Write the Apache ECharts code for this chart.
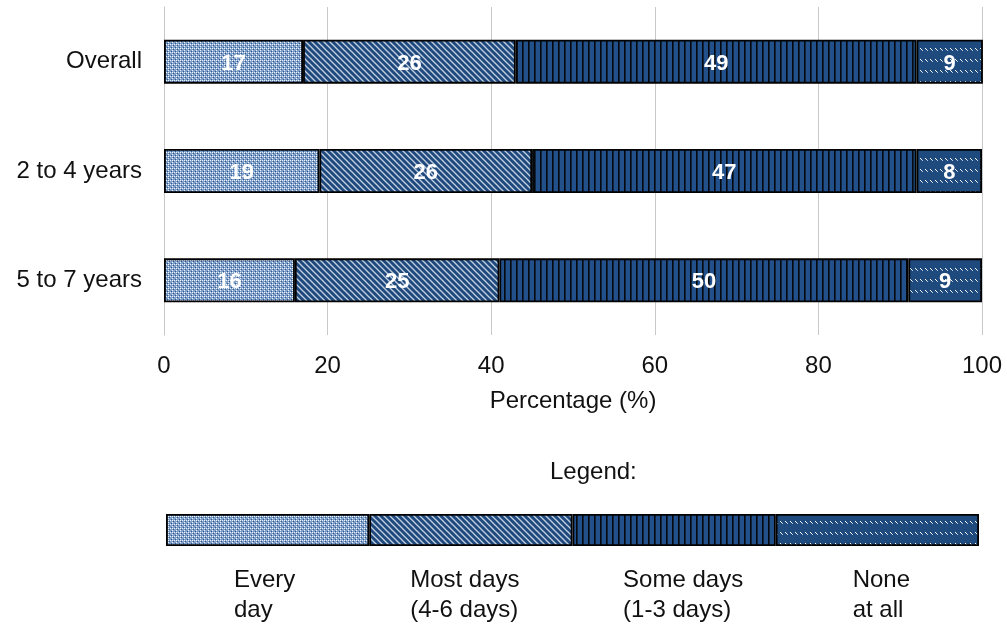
<!DOCTYPE html>
<html>
<head>
<meta charset="utf-8">
<script src="https://cdn.jsdelivr.net/npm/echarts@6/dist/echarts.min.js"></script>
<style>
  html, body { margin: 0; padding: 0; background: #ffffff; }
  #chart { width: 1007px; height: 630px; }
</style>
</head>
<body>
<div id="chart"></div>
<script>
// Age groups and the share (%) in each response band
const categories = ['Overall', '2 to 4 years', '5 to 7 years'];
const everyDay = [17, 19, 16];
const mostDays = [26, 26, 25];
const someDays = [49, 47, 50];
const noneAtAll = [9, 8, 9];

// Key bar: four equal parts, one per response band
const keyNames = ['Every\nday', 'Most days\n(4-6 days)', 'Some days\n(1-3 days)', 'None\nat all'];
const keyShares = [25, 25, 25, 25];

const FONT = '"Liberation Sans", Arial, sans-serif';
const TEXT = '#111111';

// Small repeating tiles used as fill patterns
function tile(w, h, draw) {
  const c = document.createElement('canvas');
  c.width = w; c.height = h;
  const g = c.getContext('2d');
  draw(g, w, h);
  return { image: c, repeat: 'repeat' };
}

const dotted = tile(4, 4, (g) => {
  g.fillStyle = '#7f9ec8'; g.fillRect(0, 0, 4, 4);
  g.fillStyle = '#eef3fa';
  [[0, 0], [2, 0], [0, 2]].forEach(([x, y]) => g.fillRect(x, y, 1, 1));
  g.fillStyle = '#2f5a92';
  [[1, 1], [3, 3]].forEach(([x, y]) => g.fillRect(x, y, 1, 1));
});

const diagonal = tile(6, 6, (g) => {
  g.fillStyle = '#1f497d'; g.fillRect(0, 0, 6, 6);
  g.strokeStyle = '#c2d0e2'; g.lineWidth = 1.3;
  [-6, 0, 6].forEach((k) => {
    g.beginPath(); g.moveTo(-6, -6 + k); g.lineTo(12, 12 + k); g.stroke();
  });
});

const vertical = tile(6, 6, (g) => {
  g.fillStyle = '#21508a'; g.fillRect(0, 0, 6, 6);
  g.fillStyle = '#05080d'; g.fillRect(0, 0, 1, 6);
  g.fillStyle = '#10243d'; g.fillRect(1, 0, 1, 6);
});

const dashedRows = tile(5, 11, (g) => {
  g.fillStyle = '#1f4a7e'; g.fillRect(0, 0, 5, 11);
  g.fillStyle = '#ffffff';
  g.fillRect(0, 4, 1, 1); g.fillRect(1, 5, 1, 1);
  g.fillStyle = '#b9c8dc'; g.fillRect(2, 6, 1, 1);
});

const fills = [dotted, diagonal, vertical, dashedRows];
const bandValues = [everyDay, mostDays, someDays, noneAtAll];

const border = { borderColor: '#000000', borderWidth: 1.8 };

const mainSeries = bandValues.map((vals, i) => ({
  type: 'bar',
  name: keyNames[i],
  stack: 'share',
  barWidth: 44,
  data: vals,
  itemStyle: Object.assign({ color: fills[i] }, border),
  label: {
    show: true,
    position: 'inside',
    offset: [0, 2],
    color: '#ffffff',
    fontFamily: FONT,
    fontSize: 22,
    fontWeight: 'bold'
  }
}));

const keyOffsets = [-3, -6, 9, 4];
const keySeries = keyShares.map((v, i) => ({
  type: 'bar',
  stack: 'key',
  xAxisIndex: 1,
  yAxisIndex: 1,
  barWidth: 32,
  data: [v],
  itemStyle: Object.assign({ color: fills[i] }, border),
  label: {
    show: true,
    position: 'bottom',
    distance: 19,
    offset: [keyOffsets[i], 0],
    formatter: () => keyNames[i].split('\n').map((s) => '{t|' + s + '}').join('\n'),
    rich: {
      t: { align: 'left', fontFamily: FONT, fontSize: 24, color: TEXT, lineHeight: 30 }
    }
  }
}));

const chart = echarts.init(document.getElementById('chart'), null, { renderer: 'canvas' });
chart.setOption({
  animation: false,
  backgroundColor: '#ffffff',
  grid: [
    { left: 164, right: 25, top: 7, height: 328 },
    { left: 166, right: 28, top: 514, height: 32 }
  ],
  xAxis: [
    {
      type: 'value', gridIndex: 0, min: 0, max: 100, interval: 20,
      axisLine: { show: false },
      axisTick: { show: false },
      splitLine: { show: true, lineStyle: { color: '#c8c8c8', width: 1 } },
      axisLabel: { fontFamily: FONT, fontSize: 24, color: TEXT, margin: 19 },
      name: 'Percentage (%)',
      nameLocation: 'middle',
      nameGap: 54,
      nameTextStyle: { fontFamily: FONT, fontSize: 24, color: TEXT }
    },
    { type: 'value', gridIndex: 1, min: 0, max: 100, show: false }
  ],
  yAxis: [
    {
      type: 'category', gridIndex: 0, data: categories, inverse: true,
      axisLine: { show: true, lineStyle: { color: '#c8c8c8', width: 1 } },
      axisTick: { show: false },
      axisLabel: { fontFamily: FONT, fontSize: 24, color: TEXT, margin: 22 }
    },
    { type: 'category', gridIndex: 1, data: [''], show: false }
  ],
  graphic: [
    {
      type: 'text', left: 550, top: 460,
      style: { text: 'Legend:', fontFamily: FONT, fontSize: 24, fill: TEXT }
    }
  ],
  series: mainSeries.concat(keySeries)
});
</script>
</body>
</html>
